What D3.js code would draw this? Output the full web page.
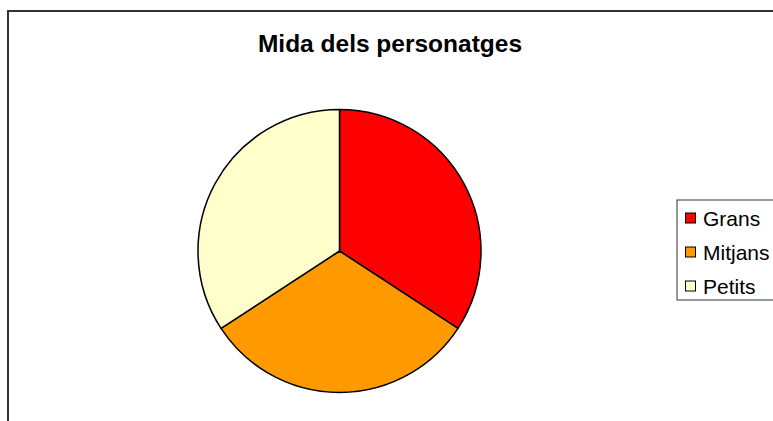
<!DOCTYPE html>
<html>
<head>
<meta charset="utf-8">
<script src="https://cdn.jsdelivr.net/npm/d3@7"></script>
<style>
  html, body { margin: 0; padding: 0; background: #fff; }
  svg { display: block; font-family: "Liberation Sans", Arial, sans-serif; }
</style>
</head>
<body>
<svg id="chart" width="773" height="421"></svg>
<script>
const title = "Mida dels personatges";
const categories = ["Grans", "Mitjans", "Petits"];
const values = [13, 12, 13];
const colors = ["#FF0000", "#FF9900", "#FFFFCC"];

const W = 773, H = 421;
const svg = d3.select("#chart");

// outer frame
svg.append("rect")
  .attr("x", 8).attr("y", 11)
  .attr("width", W + 10).attr("height", H + 10)
  .attr("fill", "#fff")
  .attr("stroke", "#333").attr("stroke-width", 2);

// title
svg.append("text")
  .attr("x", 390).attr("y", 52)
  .attr("text-anchor", "middle")
  .attr("font-size", 24.5).attr("font-weight", "bold")
  .attr("fill", "#000")
  .text(title);

// pie
const cx = 339.5, cy = 251, r = 141.5;
const pie = d3.pie().sort(null).value(d => d)(values);
const arc = d3.arc().innerRadius(0).outerRadius(r);
const g = svg.append("g").attr("transform", `translate(${cx},${cy})`);
g.selectAll("path").data(pie).join("path")
  .attr("d", arc)
  .attr("fill", (d, i) => colors[i])
  .attr("stroke", "#000").attr("stroke-width", 1.5)
  .attr("stroke-linejoin", "round");

// legend
const lg = svg.append("g");
lg.append("rect")
  .attr("x", 677).attr("y", 200)
  .attr("width", 110).attr("height", 100)
  .attr("fill", "#fff").attr("stroke", "#333").attr("stroke-width", 1);
const rowY = d3.scalePoint().domain(categories).range([218, 286]);
const items = lg.selectAll("g.item").data(categories).join("g").attr("class", "item")
  .attr("transform", d => `translate(0,${rowY(d)})`);
items.append("rect")
  .attr("x", 685.5).attr("y", -5).attr("width", 10).attr("height", 10)
  .attr("fill", (d, i) => colors[i]).attr("stroke", "#000").attr("stroke-width", 1);
items.append("text")
  .attr("x", 703).attr("y", 7.5)
  .attr("font-size", 21).attr("fill", "#000")
  .text(d => d);
</script>
</body>
</html>
